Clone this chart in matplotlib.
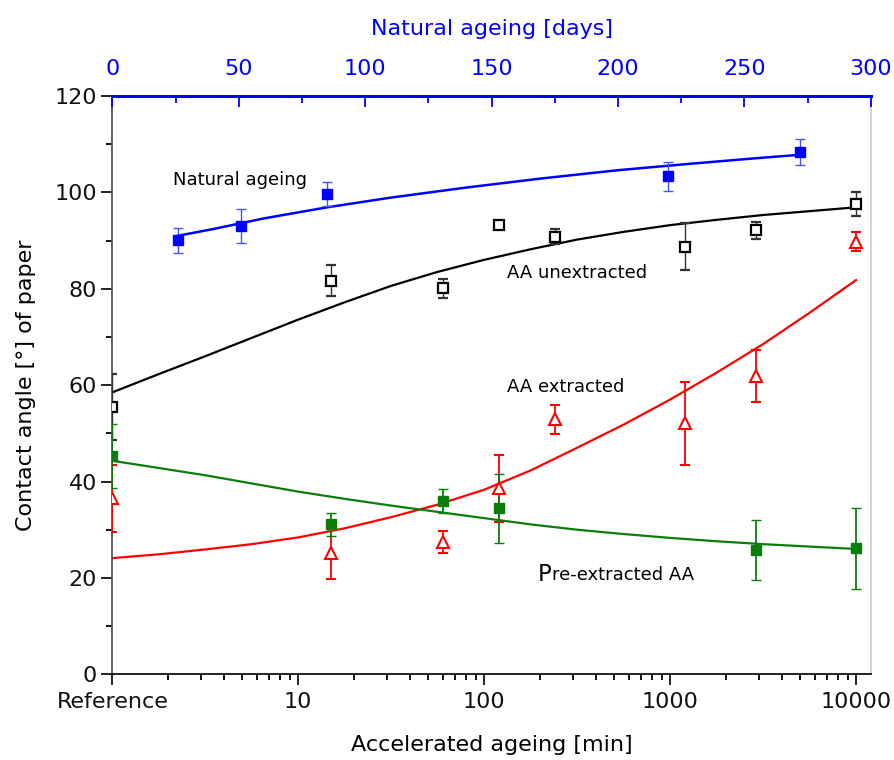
import matplotlib
matplotlib.use("Agg")
import matplotlib.pyplot as plt
from matplotlib.ticker import LogLocator, NullFormatter, MultipleLocator

# ---------------- data ----------------
# Accelerated ageing time [min]; 1 == "Reference"
unext_x = [1, 15, 60, 120, 240, 1200, 2880, 10000]
unext_y = [55.5, 81.7, 80.1, 93.2, 90.8, 88.7, 92.1, 97.6]
unext_err = [6.8, 3.2, 2.0, 0.7, 1.5, 4.9, 1.8, 2.4]

ext_x = [1, 15, 60, 120, 240, 1200, 2880, 10000]
ext_y = [36.5, 25.1, 27.4, 38.6, 52.9, 52.1, 61.8, 89.8]
ext_err = [7.0, 5.4, 2.3, 7.0, 3.0, 8.6, 5.4, 2.0]

pre_x = [1, 15, 60, 120, 2880, 10000]
pre_y = [45.3, 31.1, 36.0, 34.4, 25.8, 26.1]
pre_err = [6.7, 2.4, 2.5, 7.1, 6.2, 8.5]

# Natural ageing [days]
nat_days = [26, 51, 85, 220, 272]
nat_y = [90.1, 93.0, 99.7, 103.3, 108.4]
nat_err = [2.6, 3.6, 2.5, 3.0, 2.7]

# fitted curves
fit_x = [1, 1.78, 3.16, 5.62, 10, 17.8, 31.6, 56.2, 100, 178, 316, 562,
         1000, 1780, 3160, 5620, 10000]
unext_fit_y = [58.5, 62.3, 66.0, 69.8, 73.6, 77.2, 80.6, 83.5, 86.0, 88.2,
               90.2, 91.8, 93.2, 94.3, 95.3, 96.1, 96.9]
ext_fit_y = [24.1, 24.9, 25.9, 27.0, 28.4, 30.3, 32.6, 35.2, 38.3, 42.3,
             47.0, 51.8, 57.0, 62.6, 68.5, 75.0, 81.8]
pre_fit_y = [44.3, 42.8, 41.3, 39.6, 37.9, 36.4, 35.0, 33.7, 32.4, 31.1,
             30.0, 29.1, 28.3, 27.6, 27.0, 26.5, 26.0]

nat_fit_days = [26, 40, 60, 85, 110, 140, 170, 200, 230, 255, 272]
nat_fit_y = [91.0, 92.4, 94.6, 96.9, 98.9, 101.0, 102.9, 104.6, 106.0, 107.1, 107.8]

bottom_ticks = [1, 10, 100, 1000, 10000]
bottom_labels = ["Reference", "10", "100", "1000", "10000"]
top_ticks = [0, 50, 100, 150, 200, 250, 300]

# ---------------- style ----------------
plt.rcParams['font.family'] = ['DejaVu Sans']
BLUE = '#0000ff'
GREEN = '#0a7d0a'
RED = '#ff0000'
BLACK = '#000000'

fig = plt.figure(figsize=(8.95, 7.6), dpi=100)
ax = fig.add_axes([0.1255, 0.1128, 0.8474, 0.7609])
ax.set_xscale('log')
ax.set_xlim(1, 12000)
ax.set_ylim(0, 120)

ms = 7
cap = 3.6

# fits
ax.plot(fit_x, unext_fit_y, color=BLACK, lw=1.6, zorder=2)
ax.plot(fit_x, ext_fit_y, color=RED, lw=1.6, zorder=2)
ax.plot(fit_x, pre_fit_y, color=GREEN, lw=1.6, zorder=2)

# data
ax.errorbar(unext_x, unext_y, yerr=unext_err, fmt='s', ms=ms, mfc='white',
            mec=BLACK, mew=1.6, ecolor='#333333', elinewidth=1.0, capsize=cap,
            capthick=1.0, zorder=3)
ax.errorbar(ext_x, ext_y, yerr=ext_err, fmt='^', ms=9, mfc='white',
            mec=RED, mew=1.5, ecolor=RED, elinewidth=1.3, capsize=cap,
            capthick=1.3, zorder=3)
ax.errorbar(pre_x, pre_y, yerr=pre_err, fmt='s', ms=ms, mfc=GREEN,
            mec=GREEN, mew=1, ecolor=GREEN, elinewidth=1.3, capsize=cap,
            capthick=1.3, zorder=3)

# axis styling bottom / left
ax.set_xticks(bottom_ticks)
ax.set_xticklabels(bottom_labels)
ax.xaxis.set_minor_locator(LogLocator(base=10, subs=range(2, 10), numticks=20))
ax.xaxis.set_minor_formatter(NullFormatter())
ax.yaxis.set_major_locator(MultipleLocator(20))
ax.yaxis.set_minor_locator(MultipleLocator(10))
ax.tick_params(axis='both', which='major', direction='out', length=8, width=1.3,
               labelsize=16, colors='#111111')
ax.tick_params(axis='x', which='major', pad=5)
ax.tick_params(axis='y', which='major', pad=3)
ax.tick_params(axis='both', which='minor', direction='out', length=4.5, width=1.3)
ax.tick_params(axis='x', which='both', top=False)
ax.tick_params(axis='y', which='both', right=False)
ax.spines['left'].set_color('#555555')
ax.spines['left'].set_linewidth(1.3)
ax.spines['bottom'].set_color('#111111')
ax.spines['bottom'].set_linewidth(1.3)
ax.spines['right'].set_color('#cccccc')
ax.spines['right'].set_linewidth(1.2)
ax.spines['top'].set_visible(False)

ax.set_xlabel('Accelerated ageing [min]', fontsize=16, labelpad=16)
ax.set_ylabel('Contact angle [\u00b0] of paper', fontsize=16, labelpad=13)

# top axis: natural ageing
axt = ax.twiny()
axt.set_xlim(0, 300)
axt.plot(nat_fit_days, nat_fit_y, color=BLUE, lw=1.8, zorder=2)
axt.errorbar(nat_days, nat_y, yerr=nat_err, fmt='s', ms=ms, mfc=BLUE, mec=BLUE,
             ecolor='#4455ff', elinewidth=1.0, capsize=cap, capthick=1.0, zorder=3)
axt.set_xticks(top_ticks)
axt.xaxis.set_minor_locator(MultipleLocator(25))
axt.tick_params(axis='x', which='major', direction='in', length=8, width=1.3,
                colors=BLUE, labelsize=16, pad=12.5)
axt.tick_params(axis='x', which='minor', direction='in', length=5, width=1.3,
                colors=BLUE)
axt.spines['top'].set_color(BLUE)
axt.spines['top'].set_linewidth(2.2)
for s in ['left', 'right', 'bottom']:
    axt.spines[s].set_visible(False)
axt.set_xlabel('Natural ageing [days]', fontsize=16, color=BLUE, labelpad=17)

# annotations
ax.text(2.12, 102.6, 'Natural ageing', fontsize=13, ha='left', va='center')
ax.text(131.9, 83.3, 'AA unextracted', fontsize=13, ha='left', va='center')
ax.text(131.9, 59.6, 'AA extracted', fontsize=13, ha='left', va='center')
tp = ax.text(194.5, 19.4, 'P', fontsize=16.5, ha='left', va='baseline')
ax.annotate('re-extracted AA', xy=(1, 0), xycoords=tp, xytext=(0, 3.9),
            textcoords='offset points', fontsize=13, ha='left', va='baseline')

fig.savefig('out.png', dpi=100)
